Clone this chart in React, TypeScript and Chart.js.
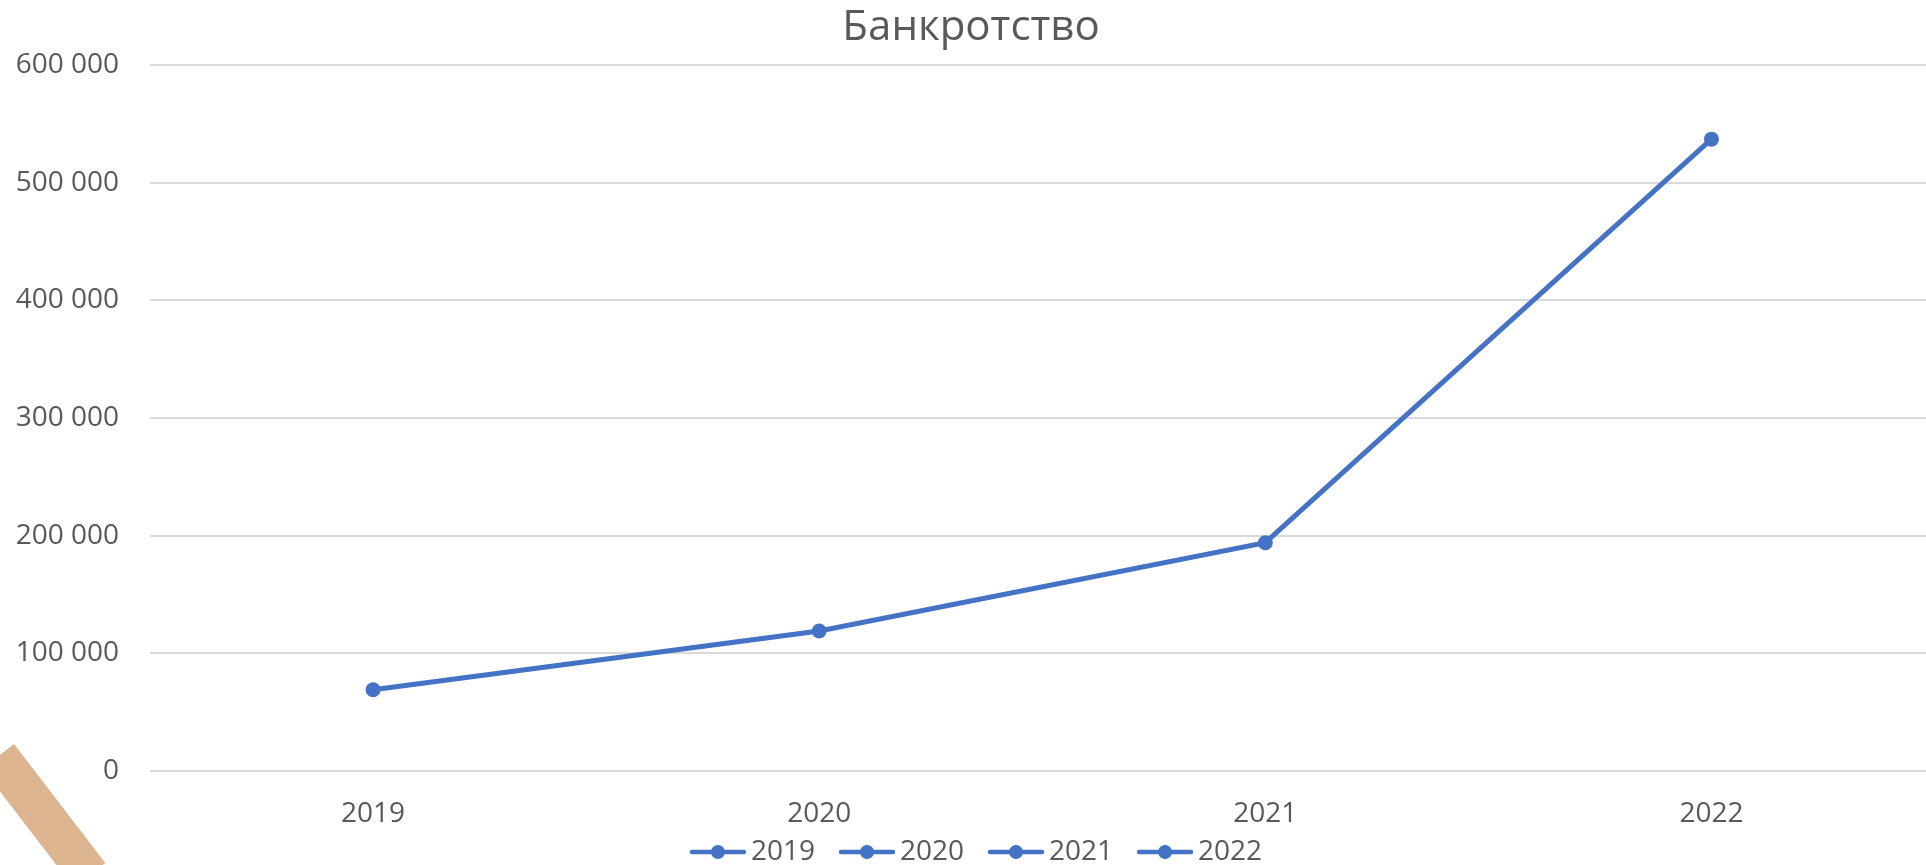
import React, { useEffect, useRef } from "react";
import { Chart, registerables } from "chart.js";

Chart.register(...registerables);

const title = "Банкротство";
const categories = ["2019", "2020", "2021", "2022"];
const values = [69000, 119000, 194000, 537000];
const yTicks = [0, 100000, 200000, 300000, 400000, 500000, 600000];

const BLUE = "#4472C4";
const TEXT = "#595959";
const GRID = "#D9D9D9";
const FONT = "'Open Sans', 'DejaVu Sans', sans-serif";

function fmt(v: number): string {
  return String(v).replace(/\B(?=(\d{3})+(?!\d))/g, " ");
}

function makeGlyph(): HTMLCanvasElement {
  const c = document.createElement("canvas");
  c.width = 75;
  c.height = 18;
  const ctx = c.getContext("2d")!;
  ctx.strokeStyle = BLUE;
  ctx.lineWidth = 4.5;
  ctx.lineCap = "round";
  ctx.beginPath();
  ctx.moveTo(21, 9);
  ctx.lineTo(73, 9);
  ctx.stroke();
  ctx.fillStyle = BLUE;
  ctx.beginPath();
  ctx.arc(47, 9, 7, 0, Math.PI * 2);
  ctx.fill();
  return c;
}

export default function App() {
  const ref = useRef<HTMLCanvasElement | null>(null);

  useEffect(() => {
    if (!ref.current) return;
    const glyph = makeGlyph();
    const chart = new Chart(ref.current, {
      type: "line",
      data: {
        labels: categories,
        datasets: [
          {
            label: title,
            data: values,
            borderColor: BLUE,
            backgroundColor: BLUE,
            borderWidth: 5,
            pointRadius: 7.5,
            pointBackgroundColor: BLUE,
            pointBorderColor: BLUE,
            pointBorderWidth: 0,
            tension: 0,
          },
        ],
      },
      options: {
        responsive: false,
        animation: false,
        devicePixelRatio: 1,
        layout: { padding: 0 },
        plugins: {
          tooltip: { enabled: false },
          title: {
            display: true,
            text: title,
            color: TEXT,
            font: { family: FONT, size: 42, weight: "normal" },
            padding: { top: 3, bottom: 11.6 },
          },
          legend: {
            display: true,
            position: "bottom",
            labels: {
              usePointStyle: true,
              pointStyleWidth: 57,
              padding: 14,
              color: TEXT,
              font: { family: FONT, size: 28 },
              generateLabels: () =>
                categories.map((c, i) => ({
                  text: c,
                  fillStyle: BLUE,
                  strokeStyle: BLUE,
                  lineWidth: 0,
                  pointStyle: glyph as any,
                  fontColor: TEXT,
                  hidden: false,
                  datasetIndex: 0,
                  index: i,
                })),
            },
          },
        },
        scales: {
          x: {
            type: "category",
            offset: true,
            grid: { display: false, drawTicks: false },
            border: { display: false },
            ticks: {
              color: TEXT,
              font: { family: FONT, size: 28 },
              padding: 26,
              maxRotation: 0,
            },
            afterFit: (s: any) => {
              s.height = 53;
            },
          },
          y: {
            min: 0,
            max: 600000,
            afterBuildTicks: (s: any) => {
              s.ticks = yTicks.map((v) => ({ value: v }));
            },
            grid: { color: GRID, lineWidth: 2, drawTicks: false },
            border: { display: false },
            ticks: {
              color: TEXT,
              font: { family: FONT, size: 28 },
              padding: 31,
              callback: (v: any) => fmt(Number(v)),
            },
            afterFit: (s: any) => {
              s.width = 150;
            },
          },
        },
      },
    });
    return () => chart.destroy();
  }, []);

  return (
    <div
      style={{
        position: "fixed",
        left: 0,
        top: 0,
        width: 1926,
        height: 865,
        overflow: "hidden",
        background: "#fff",
      }}
    >
      <canvas ref={ref} width={1942} height={876} style={{ display: "block" }} />
      <div
        style={{
          position: "absolute",
          left: 14,
          top: 744,
          width: 150,
          height: 40,
          background: "#DCB590",
          transformOrigin: "0 0",
          transform: "rotate(52.5deg)",
        }}
      />
    </div>
  );
}
